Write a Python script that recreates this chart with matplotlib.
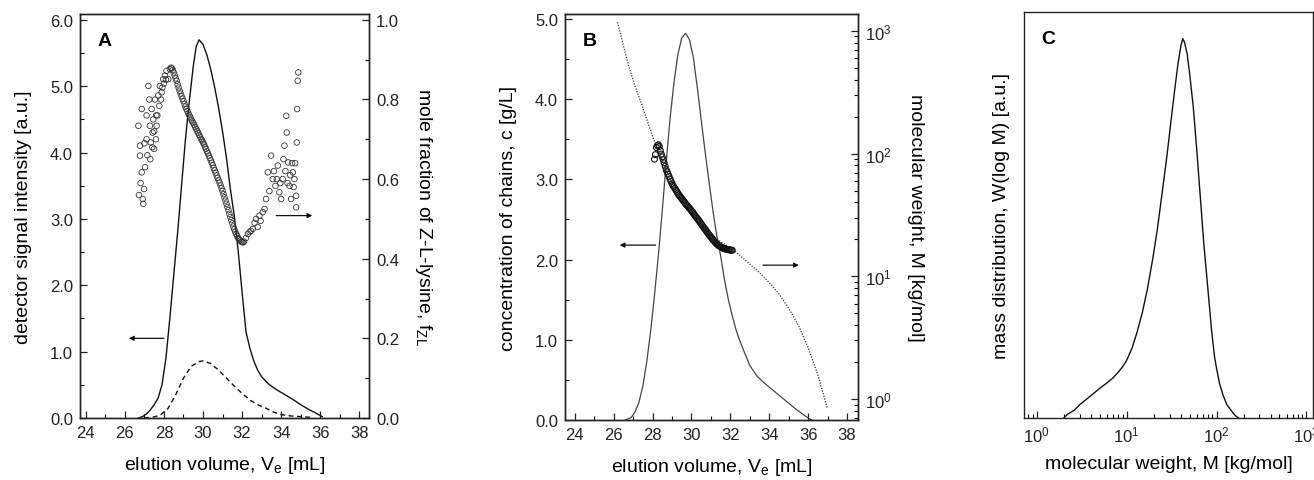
#!/usr/bin/env python3
"""SEC traces: composition (A), concentration + molecular weight (B), and MWD (C)."""
import matplotlib
matplotlib.use("Agg")
import matplotlib.pyplot as plt
from matplotlib.ticker import MultipleLocator, LogLocator, NullFormatter

plt.rcParams["font.family"] = ["Liberation Sans", "DejaVu Sans"]
plt.rcParams["mathtext.fontset"] = "custom"
plt.rcParams["mathtext.rm"] = "Liberation Sans"
plt.rcParams["mathtext.it"] = "Liberation Sans"
plt.rcParams["mathtext.default"] = "regular"

# ---- panel A: detector signal (solid), second detector (dashed), f_ZL scatter
sig_ve = [26.7, 26.9, 27.1, 27.3, 27.5, 27.7, 27.9, 28.1, 28.3, 28.5, 28.7, 28.9, 29.1, 29.3,
          29.5, 29.65, 29.8, 30.0, 30.2, 30.4, 30.6, 30.8, 31.0, 31.2, 31.4, 31.6, 31.8, 32.0,
          32.2, 32.4, 32.6, 32.8, 33.0, 33.4, 33.8, 34.2, 34.6, 35.0, 35.4, 35.8, 36.1]
sig = [0.0, 0.02, 0.06, 0.12, 0.2, 0.3, 0.5, 0.9, 1.5, 2.15, 2.8, 3.5, 4.2, 4.78,
       5.3, 5.6, 5.7, 5.63, 5.47, 5.25, 4.98, 4.67, 4.32, 3.92, 3.45, 3.05, 2.52, 1.9,
       1.3, 1.05, 0.86, 0.72, 0.62, 0.5, 0.42, 0.35, 0.28, 0.2, 0.13, 0.07, 0.02]

sig2_ve = [27.0, 27.4, 27.8, 28.2, 28.6, 29.0, 29.4, 29.8, 30.0, 30.4, 30.8, 31.2, 31.6,
           32.0, 32.4, 32.8, 33.2, 33.6, 34.0, 34.5, 35.0, 35.5]
sig2 = [0.0, 0.01, 0.04, 0.14, 0.35, 0.6, 0.78, 0.85, 0.86, 0.82, 0.72, 0.6, 0.48,
        0.37, 0.27, 0.2, 0.15, 0.09, 0.05, 0.03, 0.02, 0.01]

fzl_ve = [
    26.69, 26.72, 26.77, 26.77, 26.80, 26.86, 26.86, 26.91, 26.94, 26.98, 27.00, 27.03,
    27.11, 27.11, 27.15, 27.20, 27.25, 27.28, 27.30, 27.32, 27.37, 27.40, 27.42, 27.45,
    27.49, 27.50, 27.54, 27.59, 27.60, 27.62, 27.66, 27.71, 27.76, 27.79, 27.85, 27.88,
    27.92, 27.96, 28.00, 28.05, 28.10, 28.13, 28.22, 28.30, 28.36,
    28.40, 28.45, 28.50, 28.55, 28.60, 28.65, 28.70, 28.75, 28.80, 28.85, 28.90, 28.95,
    29.00, 29.05, 29.10, 29.15, 29.20, 29.25, 29.30, 29.35, 29.40, 29.45, 29.50, 29.55,
    29.60, 29.65, 29.70, 29.75, 29.80, 29.85, 29.90, 29.95, 30.00, 30.05, 30.10, 30.15,
    30.20, 30.25, 30.30, 30.35, 30.40, 30.45, 30.50, 30.55, 30.60, 30.65, 30.70, 30.75,
    30.80, 30.85, 30.90, 30.95, 31.00, 31.05, 31.10, 31.15, 31.20, 31.25, 31.30, 31.35,
    31.40, 31.45, 31.50, 31.55, 31.60, 31.65, 31.70, 31.75, 31.80, 31.85, 31.90, 31.95,
    32.00, 32.05, 32.10,
    32.20, 32.30, 32.38, 32.45, 32.55, 32.64, 32.72, 32.80, 32.89, 32.95, 33.06, 33.15, 33.23,
    33.32, 33.40, 33.49, 33.57, 33.63, 33.71, 33.78, 33.83, 33.91, 33.96, 34.00, 34.08,
    34.12, 34.17, 34.22, 34.26, 34.29, 34.33, 34.36, 34.43, 34.47, 34.51, 34.56, 34.60,
    34.64, 34.68, 34.72, 34.77, 34.77, 34.80, 34.82, 34.85, 34.88,
]
fzl = [
    0.734, 0.560, 0.684, 0.659, 0.590, 0.776, 0.617, 0.550, 0.538, 0.575, 0.690, 0.630,
    0.700, 0.760, 0.660, 0.834, 0.800, 0.734, 0.650, 0.692, 0.776, 0.680, 0.717, 0.750,
    0.676, 0.720, 0.800, 0.700, 0.760, 0.734, 0.760, 0.810, 0.784, 0.834, 0.800, 0.818,
    0.830, 0.851, 0.840, 0.860, 0.850, 0.872, 0.851, 0.876, 0.880,
    0.878, 0.874, 0.868, 0.860, 0.853, 0.847, 0.838, 0.830, 0.822, 0.815, 0.808, 0.802,
    0.796, 0.789, 0.782, 0.776, 0.771, 0.765, 0.760, 0.755, 0.750, 0.745, 0.741, 0.736,
    0.731, 0.726, 0.721, 0.716, 0.711, 0.706, 0.701, 0.697, 0.692, 0.687, 0.681, 0.676,
    0.670, 0.665, 0.659, 0.653, 0.647, 0.641, 0.635, 0.628, 0.622, 0.616, 0.609, 0.603,
    0.597, 0.591, 0.584, 0.577, 0.570, 0.562, 0.554, 0.546, 0.538, 0.530, 0.522, 0.513,
    0.505, 0.497, 0.489, 0.481, 0.474, 0.468, 0.462, 0.457, 0.452, 0.449, 0.446, 0.443,
    0.442, 0.441, 0.443,
    0.452, 0.462, 0.467, 0.470, 0.475, 0.490, 0.500, 0.480, 0.508, 0.495, 0.517, 0.525, 0.550,
    0.617, 0.570, 0.659, 0.600, 0.620, 0.583, 0.600, 0.634, 0.567, 0.590, 0.550, 0.600,
    0.650, 0.684, 0.620, 0.759, 0.717, 0.590, 0.642, 0.583, 0.610, 0.550, 0.640, 0.617,
    0.580, 0.600, 0.640, 0.558, 0.529, 0.692, 0.776, 0.847, 0.868,
]

# ---- panel B: chain concentration (solid), calibration M(Ve) (dotted), measured M (circles)
conc_ve = [26.6, 26.9, 27.1, 27.3, 27.5, 27.7, 27.9, 28.1, 28.3, 28.5, 28.7, 28.9, 29.1, 29.3,
           29.5, 29.7, 29.9, 30.1, 30.3, 30.5, 30.7, 30.9, 31.1, 31.3, 31.5, 31.7, 31.9, 32.1,
           32.3, 32.5, 32.8, 33.0, 33.4, 33.8, 34.2, 34.6, 35.0, 35.4, 35.8, 36.1, 36.2]
conc = [0.0, 0.03, 0.1, 0.22, 0.42, 0.72, 1.1, 1.55, 2.05, 2.6, 3.2, 3.75, 4.2, 4.55,
        4.76, 4.82, 4.74, 4.52, 4.15, 3.75, 3.35, 2.98, 2.62, 2.3, 2.05, 1.75, 1.5, 1.3,
        1.12, 0.98, 0.8, 0.68, 0.54, 0.45, 0.37, 0.29, 0.21, 0.13, 0.06, 0.01, 0.0]

calib_ve = [26.2, 26.5, 26.8, 27.1, 27.4, 27.7, 28.0, 28.3, 28.6, 29.0, 29.5, 30.0, 30.5,
            31.0, 31.5, 32.0, 32.5, 33.0, 33.5, 34.0, 34.5, 35.0, 35.5, 36.0, 36.5, 37.0]
calib_m = [1175, 759, 501, 355, 263, 191, 138, 105, 81, 57.5, 43.6, 35.1, 28.2,
           22.4, 19.1, 17.2, 14.8, 12.6, 10.7, 8.9, 7.2, 5.5, 4.0, 2.63, 1.58, 0.83]

mw_ve = [
    28.10, 28.15, 28.20, 28.25, 28.30, 28.35, 28.40, 28.45, 28.50, 28.55, 28.60, 28.65,
    28.70, 28.75, 28.80, 28.85, 28.90, 28.95, 29.00, 29.05, 29.10, 29.15, 29.20, 29.25,
    29.30, 29.35, 29.40, 29.45, 29.50, 29.55, 29.60, 29.65, 29.70, 29.75, 29.80, 29.85,
    29.90, 29.95, 30.00, 30.05, 30.10, 30.15, 30.20, 30.25, 30.30, 30.35, 30.40, 30.45,
    30.50, 30.55, 30.60, 30.65, 30.70, 30.75, 30.80, 30.85, 30.90, 30.95, 31.00, 31.05,
    31.10, 31.15, 31.20, 31.25, 31.30, 31.35, 31.40, 31.45, 31.50, 31.55, 31.60, 31.65,
    31.70, 31.75, 31.80, 31.85, 31.90, 31.95, 32.00, 32.05, 32.10,
]
mw = [
    90, 98, 112, 116, 118, 114, 106, 99, 94, 89, 84, 79,
    74, 71, 68, 65, 62, 59.5, 57, 55, 53.5, 52, 50.5, 49,
    47.5, 46.2, 45, 44, 43, 42, 41, 40, 39, 38.2, 37.4, 36.6,
    35.8, 35, 34.2, 33.4, 32.6, 31.8, 31, 30.3, 29.6, 28.9, 28.2, 27.5,
    26.8, 26.1, 25.4, 24.8, 24.2, 23.6, 23.0, 22.4, 21.9, 21.4, 20.9, 20.4,
    19.9, 19.5, 19.1, 18.7, 18.4, 18.1, 17.8, 17.6, 17.4, 17.2, 17.0, 16.9,
    16.8, 16.7, 16.6, 16.5, 16.5, 16.4, 16.4, 16.3, 16.3,
]

# ---- panel C: mass distribution W(log M), arbitrary units
mwd_m = [2.0, 2.2, 2.6, 3.0, 3.6, 4.3, 5.0, 6.0, 7.0, 8.0, 9.0, 10, 11.5, 13, 15, 17, 19.5,
         22, 25, 28, 31, 34, 37, 40, 42, 44, 47, 50, 55, 60, 66, 72, 80, 88, 95, 100, 108,
         118, 130, 145, 160, 175]
mwd_w = [0.0, 0.01, 0.02, 0.035, 0.05, 0.065, 0.078, 0.092, 0.105, 0.12, 0.135, 0.152,
         0.185, 0.225, 0.28, 0.34, 0.42, 0.5, 0.6, 0.69, 0.78, 0.86, 0.93, 0.98, 1.0, 0.99,
         0.96, 0.91, 0.82, 0.71, 0.58, 0.46, 0.34, 0.23, 0.16, 0.13, 0.09, 0.06, 0.035,
         0.02, 0.007, 0.0]

LINE = "#111111"
FS_TICK = 12
FS_LABEL = 14


def _style_ticks(ax, which_axes="both"):
    ax.tick_params(axis=which_axes, which="major", direction="in", length=5, width=0.9,
                   labelsize=FS_TICK, colors="#222222", pad=5)
    ax.tick_params(axis=which_axes, which="minor", direction="in", length=3, width=0.8)
    for s in ax.spines.values():
        s.set_linewidth(1.0)
        s.set_color("#222222")


def _arrow(ax, x0, x1, y):
    ax.annotate("", xy=(x1, y), xytext=(x0, y),
                arrowprops=dict(arrowstyle="-|>", lw=0.9, color=LINE, mutation_scale=7,
                                shrinkA=0, shrinkB=0))


def panel_a(fig):
    ax = fig.add_axes([0.0609, 0.129, 0.2199, 0.840])
    ax.plot(sig_ve, sig, color=LINE, lw=1.0)
    ax.plot(sig2_ve, sig2, color=LINE, lw=1.0, ls=(0, (3.5, 2.5)))
    ax.set_xlim(23.7, 38.5)
    ax.set_ylim(0, 6.09)
    ax.xaxis.set_major_locator(MultipleLocator(2))
    ax.xaxis.set_minor_locator(MultipleLocator(1))
    ax.yaxis.set_major_locator(MultipleLocator(1))
    ax.yaxis.set_minor_locator(MultipleLocator(0.5))
    ax.yaxis.set_major_formatter(lambda v, p: f"{v:.1f}")
    ax.set_xlabel("elution volume, V$_e$ [mL]", fontsize=FS_LABEL, labelpad=10)
    ax.set_ylabel("detector signal intensity [a.u.]", fontsize=FS_LABEL, labelpad=13)
    _style_ticks(ax)
    ax.tick_params(top=False, right=False)
    ax.text(0.06, 0.955, "A", transform=ax.transAxes, fontsize=14, fontweight="bold",
            va="top", ha="left")
    _arrow(ax, 28.0, 26.2, 1.2)
    _arrow(ax, 33.75, 35.6, 3.05)

    axr = ax.twinx()
    axr.scatter(fzl_ve, fzl, s=16, facecolors="none", edgecolors="#333333", linewidths=0.6)
    axr.set_ylim(0, 6.09 / 6.0)
    axr.yaxis.set_major_locator(MultipleLocator(0.2))
    axr.yaxis.set_minor_locator(MultipleLocator(0.1))
    axr.yaxis.set_major_formatter(lambda v, p: f"{v:.1f}")
    axr.set_ylabel("mole fraction of Z-L-lysine, f$_{ZL}$", fontsize=FS_LABEL,
                   rotation=270, labelpad=25)
    _style_ticks(axr, "y")


def panel_b(fig):
    ax = fig.add_axes([0.430, 0.1247, 0.223, 0.8441])
    ax.plot(conc_ve, conc, color="#444444", lw=0.9)
    ax.set_xlim(23.5, 38.57)
    ax.set_ylim(0, 5.06)
    ax.xaxis.set_major_locator(MultipleLocator(2))
    ax.xaxis.set_minor_locator(MultipleLocator(1))
    ax.yaxis.set_major_locator(MultipleLocator(1))
    ax.yaxis.set_minor_locator(MultipleLocator(0.5))
    ax.yaxis.set_major_formatter(lambda v, p: f"{v:.1f}")
    ax.set_xlabel("elution volume, V$_e$ [mL]", fontsize=FS_LABEL, labelpad=10)
    ax.set_ylabel("concentration of chains, c [g/L]", fontsize=FS_LABEL, labelpad=13)
    _style_ticks(ax)
    ax.tick_params(top=False, right=False)
    ax.text(0.06, 0.955, "B", transform=ax.transAxes, fontsize=14, fontweight="bold",
            va="top", ha="left")
    _arrow(ax, 28.16, 26.31, 2.18)
    _arrow(ax, 33.68, 35.53, 1.93)

    axr = ax.twinx()
    axr.set_yscale("log")
    axr.plot(calib_ve, calib_m, color="#333333", lw=0.9, ls=(0, (1, 1.2)))
    axr.scatter(mw_ve, mw, s=18, facecolors="none", edgecolors="#111111", linewidths=0.8)
    axr.set_ylim(0.675, 1370)
    axr.yaxis.set_major_locator(LogLocator(base=10, numticks=10))
    axr.yaxis.set_minor_locator(LogLocator(base=10, subs=range(2, 10), numticks=10))
    axr.yaxis.set_minor_formatter(NullFormatter())
    axr.set_ylabel("molecular weight, M [kg/mol]", fontsize=FS_LABEL, rotation=270,
                   labelpad=23)
    _style_ticks(axr, "y")


def panel_c(fig):
    ax = fig.add_axes([0.7793, 0.129, 0.2203, 0.844])
    ax.plot(mwd_m, mwd_w, color=LINE, lw=1.0)
    ax.set_xscale("log")
    ax.set_xlim(0.72, 1196)
    ax.set_ylim(0, 1.07)
    ax.xaxis.set_major_locator(LogLocator(base=10, numticks=10))
    ax.xaxis.set_minor_locator(LogLocator(base=10, subs=range(2, 10), numticks=10))
    ax.xaxis.set_minor_formatter(NullFormatter())
    ax.set_yticks([])
    ax.set_xlabel("molecular weight, M [kg/mol]", fontsize=FS_LABEL, labelpad=7)
    ax.set_ylabel("mass distribution, W(log M) [a.u.]", fontsize=FS_LABEL, labelpad=10)
    _style_ticks(ax, "x")
    ax.text(0.06, 0.955, "C", transform=ax.transAxes, fontsize=14, fontweight="bold",
            va="top", ha="left")


def main():
    fig = plt.figure(figsize=(13.14, 4.81), dpi=100)
    panel_a(fig)
    panel_b(fig)
    panel_c(fig)
    fig.savefig("out.png", dpi=100)
    plt.close(fig)


if __name__ == "__main__":
    main()
